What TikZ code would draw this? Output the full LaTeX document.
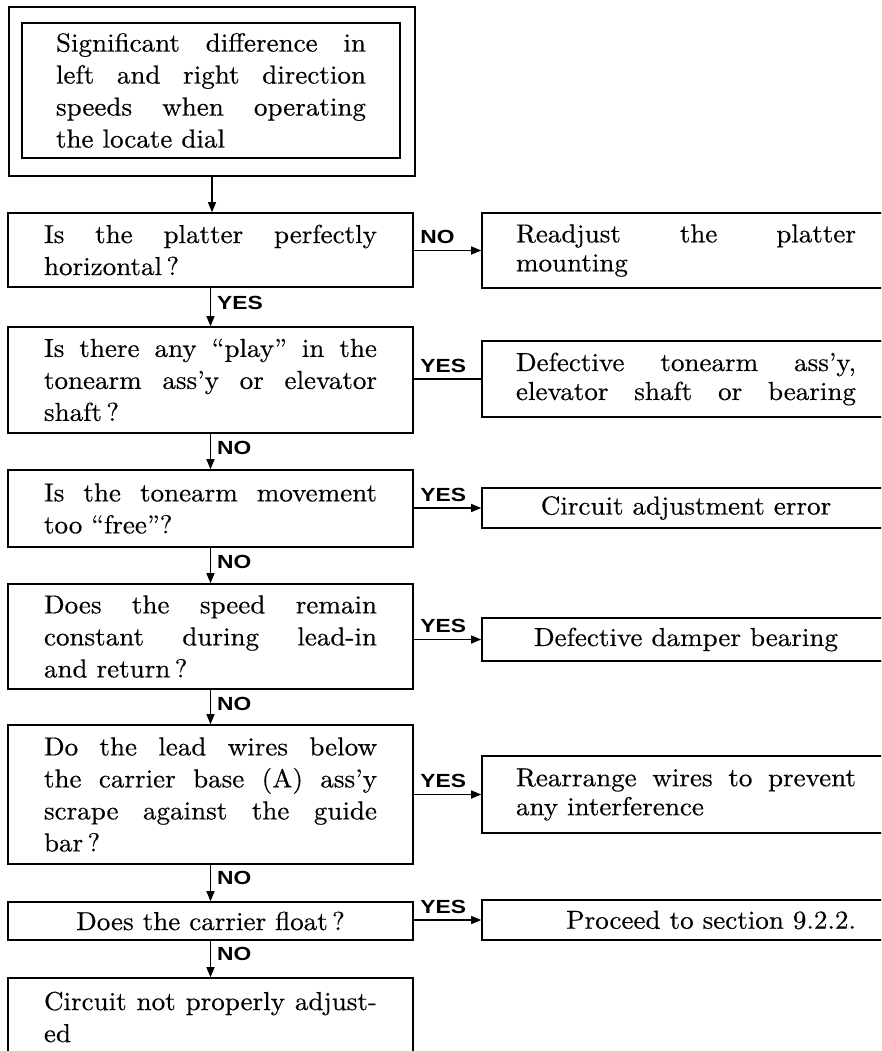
\documentclass[tikz,border=0pt]{standalone}
\usepackage{fontspec}
\setmainfont{lmroman10-regular.otf}[FakeStretch=1.04, FakeBold=0.4, Ligatures=TeX]
\newfontfamily\labfont{Liberation Sans}[FakeStretch=1.2]
\usetikzlibrary{arrows.meta}
\newcommand{\jl}[1]{\makebox[333pt][s]{#1}}
\newcommand{\jr}[1]{\makebox[340pt][s]{#1}}
\newcommand{\jt}[1]{\makebox[310pt][s]{#1}}
\tikzset{
  box/.style={draw, line width=1.6pt, inner sep=0pt, align=left,
    font=\fontsize{26}{32}\selectfont},
  lbox/.style={box, minimum width=405pt},
  rbox/.style={box, minimum width=408pt, font=\fontsize{26}{29}\selectfont},
  arr/.style={line width=1.3pt, -{Triangle[length=10pt,width=8pt]}},
  conn/.style={line width=1.3pt},
  lab/.style={inner sep=0pt, font=\labfont\bfseries\fontsize{19}{19}\selectfont},
  dlab/.style={lab, anchor=west, xshift=6pt, pos=0.4},
  hlab/.style={lab, anchor=south west, xshift=6pt, yshift=6pt, pos=0}
}
\begin{document}
\begin{tikzpicture}[x=1pt,y=-1pt]
\useasboundingbox (0,0) rectangle (881,1051);
\clip (0,0) rectangle (881,1051);
% top double box
\node[draw, line width=1.6pt, inner sep=0pt, minimum width=406pt, minimum height=169pt] (topout) at (212,91.5) {};
\node[box, minimum width=378pt, minimum height=135pt] (topin) at (211,90.5)
  {\jt{Significant difference in}\\\jt{left and right direction}\\\jt{speeds when operating}\\the locate dial};
% left column
\node[lbox, minimum height=74pt] (b2) at (210.5,250) {\jl{Is the platter perfectly}\\horizontal\,?};
\node[lbox, minimum height=106pt] (b3) at (210.5,380) {\jl{Is there any “play” in the}\\\jl{tonearm ass’y or elevator}\\shaft\,?};
\node[lbox, minimum height=77pt] (b4) at (210.5,508.5) {\jl{Is the tonearm movement}\\too “free”?};
\node[lbox, minimum height=105pt] (b5) at (210.5,636.5) {\jl{Does the speed remain}\\\jl{constant during lead-in}\\and return\,?};
\node[lbox, minimum height=139pt] (b6) at (210.5,794.5) {\jl{Do the lead wires below}\\\jl{the carrier base (A) ass’y}\\\jl{scrape against the guide}\\bar\,?};
\node[lbox, minimum height=38pt, align=center] (b7) at (210.5,921) {Does the carrier float\,?};
\node[lbox, minimum height=78pt] (b8) at (210.5,1017) {\jl{Circuit not properly adjust-}\\ed};
% right column
\node[rbox, minimum height=75pt] (r1) at (686,250.5) {\jr{Readjust the platter}\\mounting};
\node[rbox, minimum height=76pt] (r2) at (686,379) {\jr{Defective tonearm ass’y,}\\\jr{elevator shaft or bearing}};
\node[rbox, minimum height=40pt, align=center] (r3) at (686,508) {Circuit adjustment error};
\node[rbox, minimum height=43pt, align=center] (r4) at (686,639.5) {Defective damper bearing};
\node[rbox, minimum height=77pt] (r5) at (686,794.5) {\jr{Rearrange wires to prevent}\\any interference};
\node[rbox, minimum height=40pt] (r6) at (686,920) {\makebox[340pt][r]{Proceed to section 9.2.2.}};
% vertical connectors
\draw[arr] (topout.south) -- (topout.south |- b2.north);
\draw[arr] (b2.south) -- node[dlab]{YES} (b3.north);
\draw[arr] (b3.south) -- node[dlab]{NO} (b4.north);
\draw[arr] (b4.south) -- node[dlab]{NO} (b5.north);
\draw[arr] (b5.south) -- node[dlab]{NO} (b6.north);
\draw[arr] (b6.south) -- node[dlab, pos=0.35]{NO} (b7.north);
\draw[arr] (b7.south) -- node[dlab, pos=0.35]{NO} (b8.north);
% horizontal connectors
\draw[arr] (b2.east |- r1.west) -- (r1.west) node[hlab]{NO};
\draw[conn] (b3.east |- r2.west) -- (r2.west) node[hlab]{YES};
\draw[arr] (b4.east |- r3.west) -- (r3.west) node[hlab]{YES};
\draw[arr] (b5.east |- r4.west) -- (r4.west) node[hlab]{YES};
\draw[arr] (b6.east |- r5.west) -- (r5.west) node[hlab]{YES};
\draw[arr] (b7.east |- r6.west) -- (r6.west) node[hlab]{YES};
\end{tikzpicture}
\end{document}
